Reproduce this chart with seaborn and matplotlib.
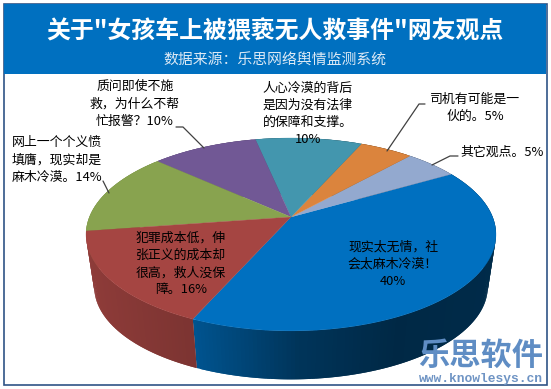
import numpy as np
import matplotlib
matplotlib.use('Agg')
import matplotlib.pyplot as plt
from matplotlib.patches import Rectangle
import seaborn as sns

sns.set_theme(style='white')
plt.rcParams['font.family'] = ['Noto Sans CJK SC', 'DejaVu Sans']

# full width punctuation
COMMA, BANG, ASK, COLON = '\uff0c', '\uff01', '\uff1f', '\uff1a'

title = '关于"女孩车上被猥亵无人救事件"网友观点'
subtitle = '数据来源' + COLON + '乐思网络舆情监测系统'

# counter clockwise from the front of the pie
values = [40, 5, 5, 10, 10, 14, 16]
colors = ['#0070C0', '#93A9CF', '#DB843D', '#4396AE', '#715895', '#88A34F', '#A54542']
labels = ['现实太无情' + COMMA + '社\n会太麻木冷漠' + BANG + '\n40%',
          '其它观点。5%',
          '司机有可能是一\n伙的。5%',
          '人心冷漠的背后\n是因为没有法律\n的保障和支撑。\n10%',
          '质问即使不施\n救' + COMMA + '为什么不帮\n忙报警' + ASK + '10%',
          '网上一个个义愤\n填膺' + COMMA + '现实却是\n麻木冷漠。14%',
          '犯罪成本低' + COMMA + '伸\n张正义的成本却\n很高' + COMMA + '救人没保\n障。16%']
label_x = [393, 502, 475, 308, 135, 57, 181]
label_y = [264, 152, 108, 114, 104, 160, 264]
leaders = [None,
           [(458, 156), (450, 156), (432, 165)],
           [(425, 104), (419, 104), (387, 151)],
           None,
           [(176, 127), (183, 127), (204, 148)],
           [(103, 181), (109, 193)],
           None]

# perspective of the pie, in pixels
x0, y0, a, b, k = 291, 217, 201.6, 93.3, 0.181
y0_low, s_low = 270, 0.96


def project(theta, low=False):
    t = np.radians(theta)
    u, v = np.cos(t), np.sin(t)
    s, yc = (s_low, y0_low) if low else (1, y0)
    return x0 + s * a * u / (1 + k * v), yc - s * b * v / (1 + k * v)


def side_shade(x):
    return np.interp(x, [90, 195, 300, 400, 490], [0.86, 0.75, 0.47, 0.36, 0.38])


fig = plt.figure(figsize=(5.51, 3.89), dpi=100)
ax = fig.add_axes([0, 0, 1, 1])
wedges, _ = ax.pie(values, colors=colors, startangle=-114)
angles = [(w.theta1, w.theta2) for w in wedges]
for w in wedges:
    w.remove()
ax.set_aspect('auto')
ax.set_xlim(0, 551)
ax.set_ylim(389, 0)
ax.axis('off')

# frame and header
ax.add_patch(Rectangle((3.5, 3.5), 543, 381.5, fc='white', ec='#2F5486', lw=1.2, zorder=0))
ax.add_patch(Rectangle((4, 4), 542, 70, fc='#0070C0', ec='none', zorder=1))
ax.text(275, 31, title, color='white', fontsize=17.2, fontweight='bold', ha='center', va='center')
ax.text(275, 61, subtitle, color='#DCE9F5', fontsize=10.7, ha='center', va='center')

# side of the pie, strips overlap so no seams show
for (t1, t2), c in zip(angles, colors):
    rgb = np.array(matplotlib.colors.to_rgb(c))
    for p in np.arange(t1, t2, 1.0):
        q = min(p + 2.0, t2)
        xt1, yt1 = project(p)
        xt2, yt2 = project(q)
        xb1, yb1 = project(p, True)
        xb2, yb2 = project(q, True)
        col = rgb * side_shade((xt1 + xt2) / 2)
        ax.fill([xt1, xt2, xb2, xb1], [yt1, yt2, yb2, yb1], color=col, lw=0, zorder=2)

# top of the pie
for (t1, t2), c in zip(angles, colors):
    xs, ys = project(np.linspace(t1, t2, 120))
    ax.fill(np.r_[x0, xs], np.r_[y0, ys], color=c, lw=0.2, zorder=3)

for lab, lx, ly, pts in zip(labels, label_x, label_y, leaders):
    ax.text(lx, ly, lab, color='black', fontsize=9.3, ha='center', va='center',
            linespacing=1.42, multialignment='center', zorder=5)
    if pts:
        ax.plot(*zip(*pts), color='#404040', lw=0.9, zorder=4)

# watermark
ax.text(481, 356, '乐思软件', color='#5F8DC4', fontsize=22.5, fontweight='bold',
        ha='center', va='center', zorder=6)
ax.text(481, 379, 'www.knowlesys.cn', color='#6F94C4', fontsize=9.4, fontweight='bold',
        family='Liberation Mono', ha='center', va='center', zorder=6)

fig.savefig('out.png', dpi=100)
